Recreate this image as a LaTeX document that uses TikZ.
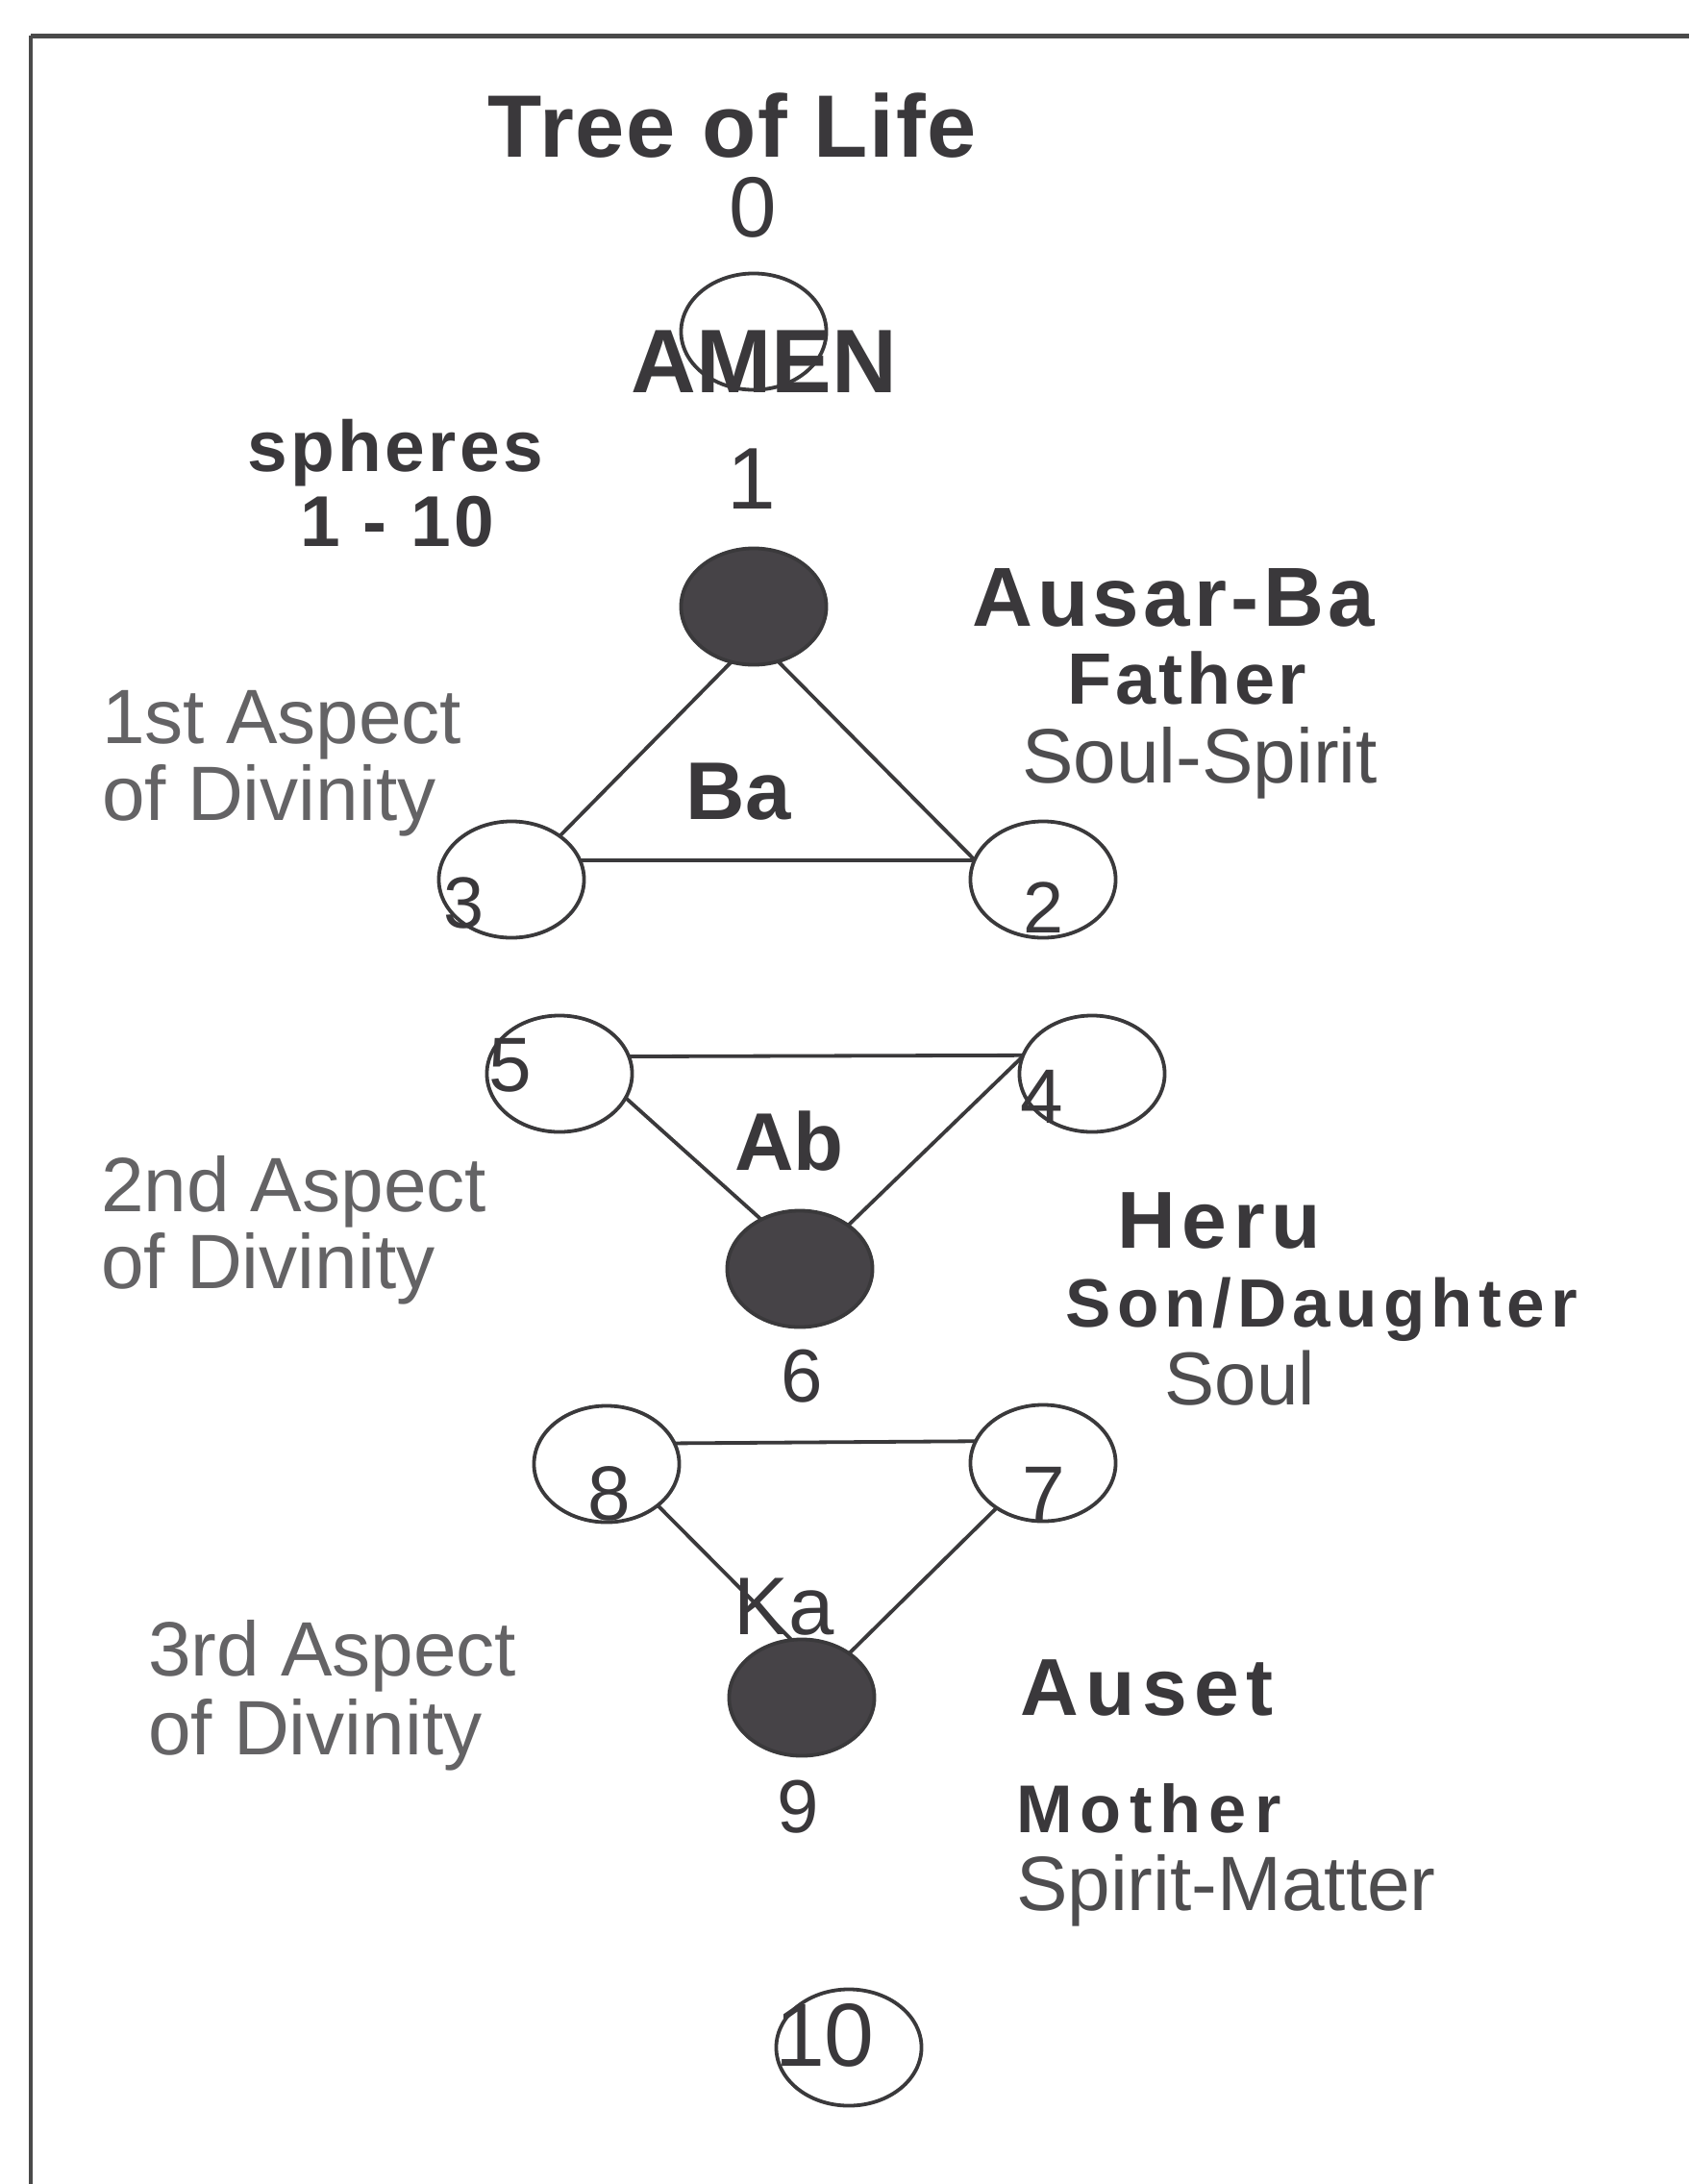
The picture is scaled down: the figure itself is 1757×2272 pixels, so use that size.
\documentclass[tikz,border=0pt]{standalone}
\usepackage{fontspec}
\setmainfont{Liberation Sans}
\usetikzlibrary{shapes.geometric}
\definecolor{ink}{HTML}{3A393B}
\definecolor{txtdark}{HTML}{3A383B}
\definecolor{txtmid}{HTML}{4E4D4F}
\definecolor{txtlight}{HTML}{646365}
\definecolor{fillsph}{HTML}{464347}
\definecolor{framec}{HTML}{4A4A4A}
\newcommand{\fsz}[1]{\fontsize{#1}{#1}\selectfont}
\newcommand{\trk}[1]{\addfontfeature{LetterSpace=#1}}
\begin{document}
\begin{tikzpicture}[x=0.01cm,y=-0.01cm,
  sph/.style={ellipse, draw=ink, line width=0.038cm, minimum width=1.51cm,
    minimum height=1.21cm, inner sep=0pt, outer sep=0pt},
  darksph/.style={sph, fill=fillsph},
  conn/.style={draw=ink, line width=0.038cm},
  lbl/.style={inner sep=0pt, outer sep=0pt, anchor=base, text=txtdark},
  lblw/.style={lbl, anchor=base west},
  digit/.style={lbl, font=\fsz{22.8pt}},
  aspect/.style={lblw, text=txtlight, font=\fsz{22.8pt}},
  sub/.style={lbl, text=txtmid, font=\fsz{22.8pt}}
]
\useasboundingbox (0,0) rectangle (1757,2272);
\fill[white] (0,0) rectangle (1757,2272);

% frame
\coordinate (fl) at (32,2272);
\coordinate (fc) at (32,37);
\coordinate (fr) at (1757,37);
\draw[framec, line width=0.05cm] (fc) -- (fr);
\draw[framec, line width=0.035cm] (fc) -- (fl);

% spheres
\node[sph] (c0) at (784,345) {};
\node[darksph] (c1) at (784,631) {};
\node[sph] (c3) at (532,915) {};
\node[sph] (c2) at (1085,915) {};
\node[sph] (c5) at (582,1117) {};
\node[sph] (c4) at (1136,1117) {};
\node[darksph] (c6) at (832,1320) {};
\node[sph] (c8) at (631,1523) {};
\node[sph] (c7) at (1085,1522) {};
\node[darksph] (c9) at (834,1766) {};
\node[sph] (c10) at (883,2130) {};

% connectors
\draw[conn] (c1.248) -- (c3.42);
\draw[conn] (c1.294) -- (c2.164);
\draw[conn] (c3.16) -- (c2.164);
\draw[conn] (c5.14) -- (c4.165);
\draw[conn] (c5.340) -- (c6.128);
\draw[conn] (c4.166) -- (c6.42);
\draw[conn] (c8.17) -- (c7.162);
\draw[conn] (c8.321) -- (c9.100);
\draw[conn] (c7.224) -- (c9.43);

% texts
\node[lbl, font=\bfseries\fsz{26.2pt}\trk{2}] (title) at (762,163) {Tree of Life};
\node[lbl, font=\fsz{25.3pt}] (t0) at (783,246) {0};
\node[lbl, font=\bfseries\fsz{26.7pt}] (amen) at (795,408) {AMEN};
\node[lbl, font=\fsz{25.9pt}] (t1) at (782,529) {1};
\node[lbl, font=\bfseries\fsz{21.3pt}\trk{4.5}] (spheres) at (411,490) {spheres};
\node[lbl, font=\bfseries\fsz{21.3pt}\trk{4.5}] (range) at (413,568) {1 - 10};

\node[lbl, font=\bfseries\fsz{24.8pt}\trk{5}] (ausar) at (1221,651) {Ausar-Ba};
\node[lbl, font=\bfseries\fsz{21.5pt}\trk{4.6}] (father) at (1235,732) {Father};
\node[sub] (soulspirit) at (1248,814) {Soul-Spirit};

\node[lbl, font=\bfseries\fsz{24.2pt}] (ba) at (768,852) {Ba};
\node[digit, font=\fsz{21.5pt}] (t3) at (483,965) {3};
\node[digit, font=\fsz{21.5pt}] (t2) at (1086,970) {2};
\node[aspect] (asp1a) at (106,773) {1st Aspect};
\node[aspect] (asp1b) at (106,853) {of Divinity};

\node[digit] (t5) at (531,1135) {5};
\node[digit] (t4) at (1084,1168) {4};
\node[lbl, font=\bfseries\fsz{24.2pt}] (ab) at (821,1217) {Ab};
\node[aspect] (asp2a) at (105,1260) {2nd Aspect};
\node[aspect] (asp2b) at (105,1340) {of Divinity};
\node[lbl, font=\bfseries\fsz{23.9pt}\trk{8}] (heru) at (1268,1298) {Heru};
\node[lbl, font=\bfseries\fsz{20.2pt}\trk{8.5}] (sondau) at (1375,1380) {Son/Daughter};
\node[sub, font=\fsz{22.2pt}] (soul) at (1290,1461) {Soul};
\node[digit, font=\fsz{22.2pt}] (t6) at (834,1458) {6};

\node[digit] (t8) at (634,1581) {8};
\node[digit] (t7) at (1086,1581) {7};
\node[lbl, font=\fsz{24.2pt}] (ka) at (816,1700) {Ka};
\node[aspect] (asp3a) at (154,1743) {3rd Aspect};
\node[aspect] (asp3b) at (154,1825) {of Divinity};
\node[lblw, font=\bfseries\fsz{23.9pt}\trk{9}] (auset) at (1061,1784) {Auset};
\node[digit, font=\fsz{22.2pt}] (t9) at (830,1906) {9};
\node[lblw, font=\bfseries\fsz{20pt}\trk{11.7}] (mother) at (1057,1906) {Mother};
\node[lblw, text=txtmid, font=\fsz{22.8pt}] (spiritmatter) at (1057,1987) {Spirit-Matter};
\node[lbl, font=\fsz{26.5pt}] (t10) at (858,2149) {10};
\end{tikzpicture}
\end{document}
